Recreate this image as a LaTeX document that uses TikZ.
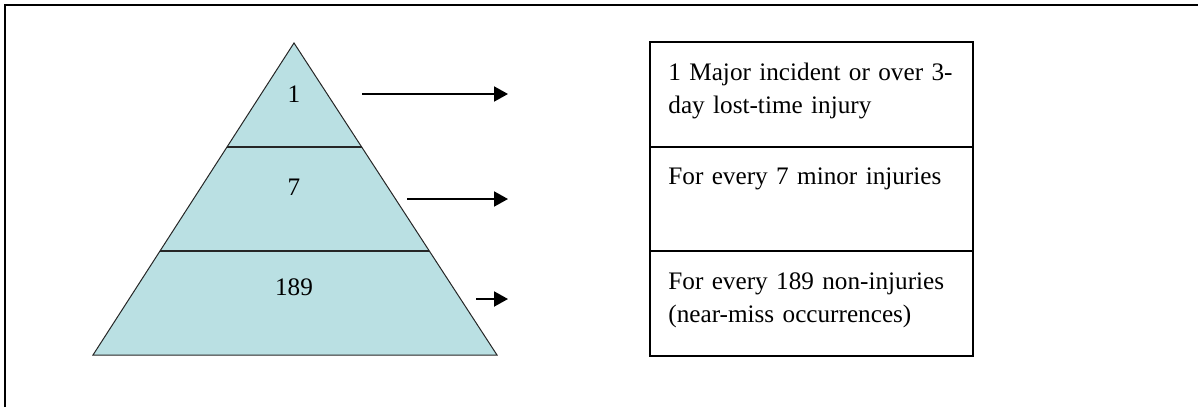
\documentclass[tikz,border=0pt]{standalone}
\usepackage{fontspec}
\setmainfont{Liberation Serif}
\usetikzlibrary{arrows.meta,positioning,calc}
\definecolor{pyrfill}{RGB}{186,224,227}
\tikzset{
  pyr/tier/.style={fill=pyrfill, draw=black!85, line width=0.5pt},
  pyr/split/.style={draw=black!85, line width=1pt},
  pyr/num/.style={font=\fontsize{12.6}{16.5}\selectfont, inner sep=0pt},
  pyr/box/.style={draw, line width=1pt, minimum width=161.5pt, minimum height=52.25pt, inner sep=0pt, outer sep=0pt},
  pyr/text/.style={font=\fontsize{12.6}{16.5}\selectfont, text width=150pt, align=left, inner sep=0pt, anchor=base west},
  pyr/arrow/.style={line width=1pt, -{Triangle[length=7pt, width=7.5pt]}},
  pyr/frame/.style={line width=1.3pt}
}

\begin{document}
\begin{tikzpicture}[x=0.5pt, y=-0.5pt]
  \useasboundingbox (0,0) rectangle (1198,407);
  \draw[pyr/frame] (5,407) -- (5,5) -- (1198,5);

  \coordinate (apex) at (294,43);
  \coordinate (bl) at (93,355);
  \coordinate (br) at (497,355);
  \draw[pyr/tier] (apex) -- (bl) -- (br) -- cycle;
  \draw[pyr/split] ($(apex)!1/3!(bl)$) -- ($(apex)!1/3!(br)$);
  \draw[pyr/split] ($(apex)!2/3!(bl)$) -- ($(apex)!2/3!(br)$);

  \node[pyr/num] (t1) at (294,94.5) {1};
  \node[pyr/num] (t2) at (294,187) {7};
  \node[pyr/num] (t3) at (294,287.5) {189};

  \node[pyr/box, anchor=north west] (b1) at (650,42) {};
  \node[pyr/box, below=0pt of b1] (b2) {};
  \node[pyr/box, below=0pt of b2] (b3) {};

  \node[pyr/text] (b1txt) at ([shift={(9pt,-19pt)}]b1.north west) {1 Major incident or over 3-\\day lost-time injury};
  \node[pyr/text] (b2txt) at ([shift={(9pt,-19pt)}]b2.north west) {For every 7 minor injuries};
  \node[pyr/text] (b3txt) at ([shift={(9pt,-19pt)}]b3.north west) {For every 189 non-injuries\\(near-miss occurrences)};

  \coordinate (a1s) at (362,94);
  \coordinate (a1e) at (508,94);
  \coordinate (a2s) at (407,199);
  \coordinate (a2e) at (508,199);
  \coordinate (a3s) at (476,299);
  \coordinate (a3e) at (508,299);
  \draw[pyr/arrow] (a1s) -- (a1e);
  \draw[pyr/arrow] (a2s) -- (a2e);
  \draw[pyr/arrow] (a3s) -- (a3e);
\end{tikzpicture}
\end{document}
